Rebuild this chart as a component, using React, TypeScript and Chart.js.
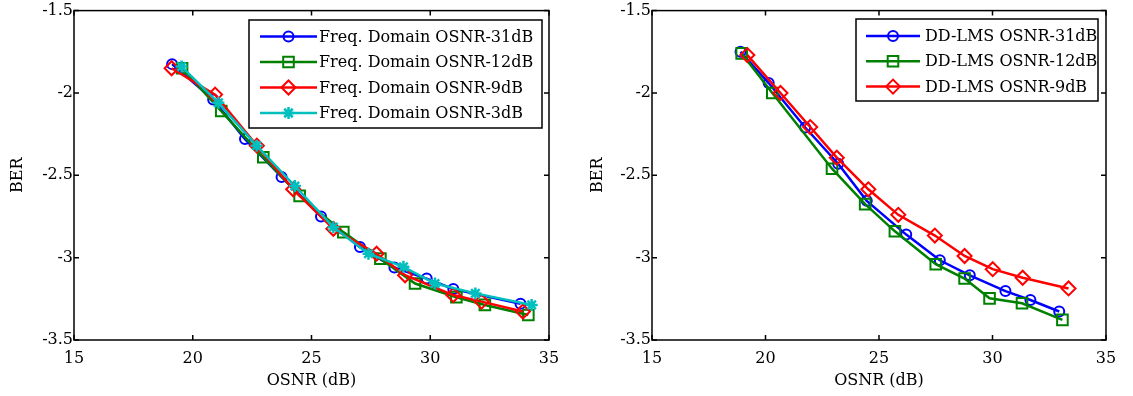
import React, { useEffect, useRef } from 'react';
import { Chart, registerables } from 'chart.js';
import { drawPoint } from 'chart.js/helpers';

Chart.register(...registerables);

const FONT_FAMILY = "'DejaVu Serif', 'Liberation Serif', serif";

// ---- axes ----
const xTickValues = [15, 20, 25, 30, 35];
const yTickValues = [-3.5, -3, -2.5, -2, -1.5];
const xTitle = 'OSNR (dB)';
const yTitle = 'BER';

// ---- left panel: frequency domain ----
const freqLabels = [
  'Freq. Domain OSNR-31dB',
  'Freq. Domain OSNR-12dB',
  'Freq. Domain OSNR-9dB',
  'Freq. Domain OSNR-3dB',
];
const freq31X = [19.13, 20.86, 22.2, 23.74, 25.4, 27.04, 28.49, 29.85, 30.97, 33.8];
const freq31Y = [-1.825, -2.04, -2.28, -2.51, -2.75, -2.936, -3.06, -3.127, -3.19, -3.28];
const freq12X = [19.55, 21.2, 22.97, 24.5, 26.34, 27.9, 29.36, 31.1, 32.3, 34.13];
const freq12Y = [-1.85, -2.11, -2.39, -2.625, -2.845, -3.006, -3.157, -3.24, -3.287, -3.348];
const freq9X = [19.11, 20.94, 22.7, 24.23, 25.92, 27.74, 28.94, 30.97, 32.16, 33.9];
const freq9Y = [-1.85, -2.01, -2.32, -2.585, -2.825, -2.976, -3.107, -3.227, -3.267, -3.327];
const freq3X = [19.53, 21.08, 22.69, 24.3, 25.92, 27.4, 28.87, 30.2, 31.9, 34.27];
const freq3Y = [-1.84, -2.06, -2.32, -2.565, -2.815, -2.976, -3.056, -3.157, -3.217, -3.287];

// ---- right panel: DD-LMS ----
const ddLabels = ['DD-LMS OSNR-31dB', 'DD-LMS OSNR-12dB', 'DD-LMS OSNR-9dB'];
const dd31X = [18.9, 20.14, 21.75, 23.2, 24.46, 26.2, 27.68, 29.0, 30.57, 31.67, 32.94];
const dd31Y = [-1.75, -1.94, -2.21, -2.43, -2.655, -2.86, -3.016, -3.107, -3.203, -3.257, -3.327];
const dd12X = [18.95, 20.3, 22.93, 24.39, 25.7, 27.5, 28.77, 29.87, 31.3, 33.08];
const dd12Y = [-1.76, -2.0, -2.46, -2.675, -2.84, -3.04, -3.127, -3.247, -3.277, -3.378];
const dd9X = [19.2, 20.66, 21.97, 23.14, 24.53, 25.85, 27.46, 28.77, 30.01, 31.33, 33.35];
const dd9Y = [-1.77, -2.0, -2.207, -2.393, -2.585, -2.74, -2.866, -2.99, -3.07, -3.122, -3.187];

const seriesColors = ['#0000ff', '#008000', '#ff0000', '#00bfbf'];
const seriesMarkers = ['circle', 'rect', 'rectRot', 'star'];
const markerRadius: Record<string, number> = { circle: 5, rect: 7.5, rectRot: 7, star: 6 };

function makeDatasets(labels: string[], xs: number[][], ys: number[][]) {
  return labels.map((label, i) => ({
    label,
    data: xs[i].map((x, j) => ({ x, y: ys[i][j] })),
    showLine: true,
    borderColor: seriesColors[i],
    backgroundColor: seriesColors[i],
    pointBackgroundColor: 'rgba(0,0,0,0)',
    pointBorderColor: seriesColors[i],
    pointStyle: seriesMarkers[i],
    pointRadius: markerRadius[seriesMarkers[i]],
    pointBorderWidth: seriesMarkers[i] === 'star' ? 2.5 : 2,
    borderWidth: 2.5,
    tension: 0,
    order: labels.length - 1 - i,
  }));
}

const axesBoxPlugin = {
  id: 'axesBox',
  afterDatasetsDraw(chart: any) {
    const { ctx, chartArea, scales } = chart;
    const { left, right, top, bottom } = chartArea;
    const L = 5;
    ctx.save();
    ctx.strokeStyle = '#000';
    ctx.lineWidth = 1.5;
    ctx.strokeRect(left, top, right - left, bottom - top);
    ctx.beginPath();
    xTickValues.forEach((v) => {
      const px = scales.x.getPixelForValue(v);
      ctx.moveTo(px, bottom);
      ctx.lineTo(px, bottom - L);
      ctx.moveTo(px, top);
      ctx.lineTo(px, top + L);
    });
    yTickValues.forEach((v) => {
      const py = scales.y.getPixelForValue(v);
      ctx.moveTo(left, py);
      ctx.lineTo(left + L, py);
      ctx.moveTo(right, py);
      ctx.lineTo(right - L, py);
    });
    ctx.stroke();
    ctx.restore();
  },
};

const boxLegendPlugin = {
  id: 'boxLegend',
  afterDatasetsDraw(chart: any, _args: any, opts: any) {
    const { ctx } = chart;
    const { x, y, width, height, lineStart, lineEnd, textX, firstRowY, rowStep } = opts;
    ctx.save();
    ctx.fillStyle = '#fff';
    ctx.fillRect(x, y, width, height);
    ctx.strokeStyle = '#000';
    ctx.lineWidth = 1.5;
    ctx.strokeRect(x, y, width, height);
    chart.data.datasets.forEach((ds: any, i: number) => {
      const ry = firstRowY + i * rowStep;
      ctx.strokeStyle = ds.borderColor;
      ctx.lineWidth = ds.borderWidth;
      ctx.beginPath();
      ctx.moveTo(lineStart, ry);
      ctx.lineTo(lineEnd, ry);
      ctx.stroke();
      ctx.lineWidth = ds.pointBorderWidth;
      ctx.fillStyle = 'rgba(0,0,0,0)';
      drawPoint(
        ctx,
        { pointStyle: ds.pointStyle, radius: ds.pointRadius, rotation: 0, borderWidth: ds.pointBorderWidth } as any,
        (lineStart + lineEnd) / 2,
        ry
      );
      ctx.fillStyle = '#000';
      ctx.font = `16px ${FONT_FAMILY}`;
      ctx.textAlign = 'left';
      ctx.textBaseline = 'middle';
      ctx.fillText(ds.label, textX, ry + 1);
    });
    ctx.restore();
  },
};

function buildConfig(
  datasets: any[],
  yAxisWidth: number,
  rightPad: number,
  yTitlePad: number,
  legend: any
) {
  const font = { family: FONT_FAMILY, size: 16 };
  return {
    type: 'scatter',
    data: { datasets },
    plugins: [axesBoxPlugin, boxLegendPlugin],
    options: {
      responsive: false,
      animation: false,
      events: [],
      layout: { padding: { left: 0, top: 10, right: rightPad, bottom: 0 } },
      plugins: {
        legend: { display: false },
        tooltip: { enabled: false },
        boxLegend: legend,
      },
      scales: {
        x: {
          type: 'linear',
          min: 15,
          max: 35,
          afterBuildTicks: (s: any) => {
            s.ticks = xTickValues.map((v) => ({ value: v }));
          },
          ticks: {
            color: '#000',
            font,
            padding: 9,
            maxRotation: 0,
            autoSkip: false,
            callback: (v: any) => String(v),
          },
          grid: { display: false, drawTicks: false },
          border: { display: false },
          title: { display: true, text: xTitle, color: '#000', font, padding: { top: 0, bottom: 6 } },
          afterFit: (s: any) => {
            s.height = 56;
          },
        },
        y: {
          type: 'linear',
          min: -3.5,
          max: -1.5,
          afterBuildTicks: (s: any) => {
            s.ticks = yTickValues.map((v) => ({ value: v }));
          },
          ticks: {
            color: '#000',
            font,
            padding: 1,
            autoSkip: false,
            callback: (v: any) => String(v),
          },
          grid: { display: false, drawTicks: false },
          border: { display: false },
          title: { display: true, text: yTitle, color: '#000', font, padding: { top: yTitlePad, bottom: 0 } },
          afterFit: (s: any) => {
            s.width = yAxisWidth;
          },
        },
      },
    },
  };
}

function Panel({ left, width, config }: { left: number; width: number; config: any }) {
  const ref = useRef<HTMLCanvasElement | null>(null);
  useEffect(() => {
    if (!ref.current) return;
    const chart = new Chart(ref.current, config);
    return () => chart.destroy();
  }, [config]);
  return (
    <canvas
      ref={ref}
      width={width}
      height={396}
      style={{ position: 'absolute', left, top: 0, width, height: 396 }}
    />
  );
}

const leftConfig = buildConfig(
  makeDatasets(freqLabels, [freq31X, freq12X, freq9X, freq3X], [freq31Y, freq12Y, freq9Y, freq3Y]),
  74,
  570 - 549,
  8,
  {
    x: 249,
    y: 20,
    width: 293,
    height: 108,
    lineStart: 260,
    lineEnd: 317,
    textX: 319,
    firstRowY: 36.5,
    rowStep: 25.5,
  }
);

const rightConfig = buildConfig(
  makeDatasets(ddLabels, [dd31X, dd12X, dd9X], [dd31Y, dd12Y, dd9Y]),
  77,
  558 - 531,
  13,
  {
    x: 281,
    y: 19,
    width: 242,
    height: 82,
    lineStart: 291,
    lineEnd: 345,
    textX: 350,
    firstRowY: 36,
    rowStep: 25.3,
  }
);

export default function App() {
  return (
    <div
      style={{
        position: 'fixed',
        left: 0,
        top: 0,
        width: 1133,
        height: 396,
        background: '#fff',
        overflow: 'hidden',
      }}
    >
      <Panel left={0} width={570} config={leftConfig} />
      <Panel left={575} width={558} config={rightConfig} />
    </div>
  );
}
